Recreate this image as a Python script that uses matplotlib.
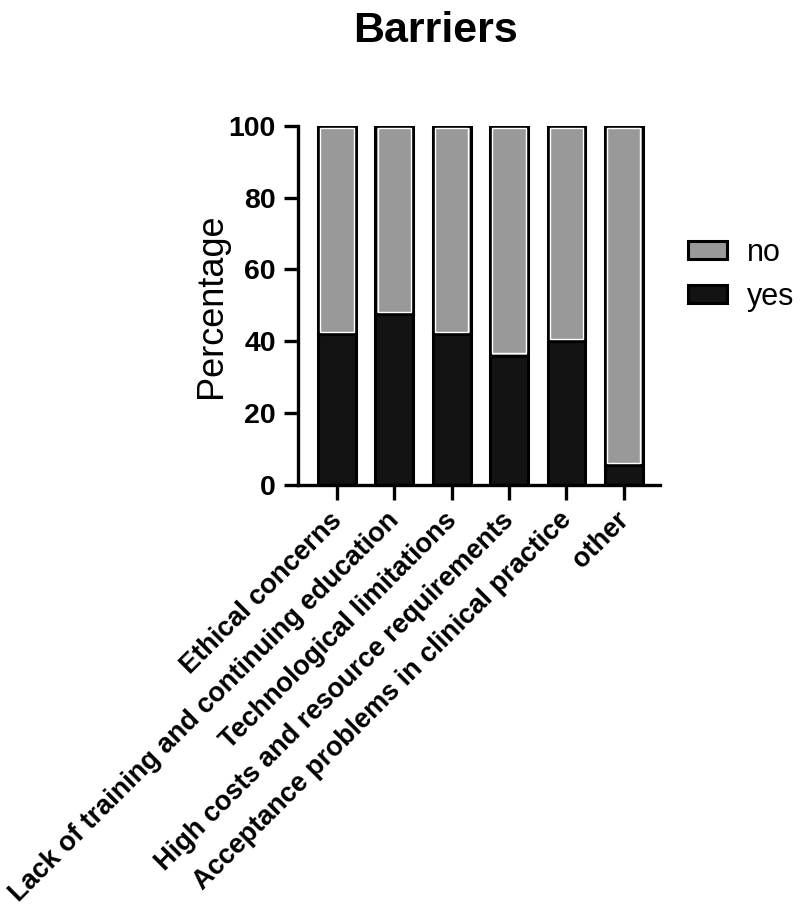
import numpy as np
import matplotlib.pyplot as plt

plt.rcParams['font.family'] = ['Liberation Sans', 'DejaVu Sans']

categories = ['Ethical concerns',
              'Lack of training and continuing education',
              'Technological limitations',
              'High costs and resource requirements',
              'Acceptance problems in clinical practice',
              'other']
yes = [42, 47.5, 42, 36, 40, 5.5]
no = [100 - v for v in yes]

fig = plt.figure(figsize=(8, 9.14), dpi=100)
ax = fig.add_axes([0.3725, 0.4694, 0.4525, 0.393])

x = np.arange(len(categories))
w = 0.66
b1 = ax.bar(x, yes, w, color='#131313', edgecolor='black', linewidth=2.2, label='yes')
b2 = ax.bar(x, no, w, bottom=yes, color='#999999', edgecolor='black', linewidth=2.2, label='no')
# thin white line inside the gray part
ax.bar(x, np.array(no) - 1.4, w - 0.08, bottom=np.array(yes) + 0.7, color='none',
       edgecolor='white', linewidth=1)

ax.set_xlim(-0.68, 5.63)
ax.set_ylim(0, 100)
ax.set_yticks([0, 20, 40, 60, 80, 100])
ax.set_xticks(x)
ax.set_xticklabels([])
# rotated category labels, placed by hand under each tick
for i, lab in enumerate(categories):
    ax.annotate(lab, xy=(x[i], 0), xycoords=('data', 'axes fraction'),
                xytext=(-6, -16), textcoords='offset points',
                rotation=45, ha='right', va='top', rotation_mode='anchor',
                fontsize=19.5, fontweight='bold')
for t in ax.get_yticklabels():
    t.set_fontsize(20.5)
    t.set_fontweight('bold')
ax.tick_params(axis='both', width=2.4, length=10, direction='out')
ax.tick_params(axis='x', length=11)
ax.tick_params(axis='y', pad=6)
for s in ['top', 'right']:
    ax.spines[s].set_visible(False)
for s in ['left', 'bottom']:
    ax.spines[s].set_linewidth(2.4)

ax.set_ylabel('Percentage', fontsize=26, labelpad=0)
fig.suptitle('Barriers', fontsize=31, fontweight='bold', x=0.544, y=0.988)

ax.legend(handles=[b2, b1], labels=['no', 'yes'], frameon=False, fontsize=22,
          loc='center left', bbox_to_anchor=(1.0, 0.585), handlelength=1.3,
          handleheight=0.5, labelspacing=0.45, handletextpad=0.65)

fig.savefig('out.png', dpi=100)
